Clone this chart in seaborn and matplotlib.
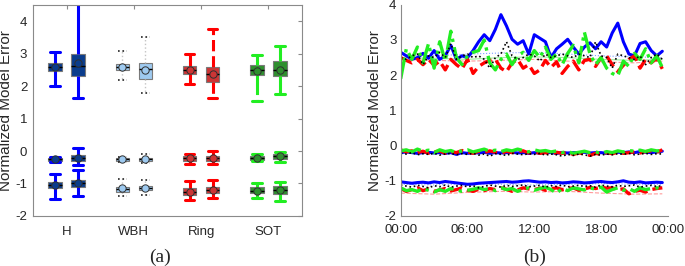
import numpy as np
import pandas as pd
import matplotlib
matplotlib.use('Agg')
import matplotlib.pyplot as plt
import seaborn as sns

sns.set_style('white')
plt.rcParams['font.family'] = ['Liberation Sans', 'DejaVu Sans']
plt.rcParams['axes.unicode_minus'] = False

# ---------------- (a) box summaries ----------------
# each row: [low whisker, q1, median, q3, high whisker]
# order: H-1, H-2, WBH-1, WBH-2, Ring-1, Ring-2, SOT-1, SOT-2
categories = ['H', 'WBH', 'Ring', 'SOT']

upper_boxes = [
    [2.00, 2.45, 2.57, 2.70, 3.05],
    [1.63, 2.32, 2.62, 2.98, 4.70],
    [2.20, 2.48, 2.60, 2.68, 3.08],
    [1.78, 2.22, 2.52, 2.70, 3.52],
    [2.05, 2.38, 2.50, 2.62, 2.98],
    [1.62, 2.12, 2.38, 2.60, 3.77],
    [1.55, 2.35, 2.48, 2.65, 2.95],
    [1.75, 2.30, 2.50, 2.77, 3.22],
]
upper_means = [2.57, 2.72, 2.60, 2.50, 2.50, 2.38, 2.45, 2.50]

middle_boxes = [
    [-0.33, -0.30, -0.26, -0.22, -0.17],
    [-0.43, -0.30, -0.20, -0.12, 0.08],
    [-0.33, -0.30, -0.25, -0.20, -0.17],
    [-0.38, -0.32, -0.26, -0.20, -0.08],
    [-0.40, -0.30, -0.22, -0.15, -0.10],
    [-0.40, -0.30, -0.22, -0.14, 0.00],
    [-0.30, -0.28, -0.22, -0.15, -0.08],
    [-0.33, -0.24, -0.16, -0.08, -0.02],
]
middle_means = [-0.26, -0.20, -0.25, -0.26, -0.22, -0.22, -0.22, -0.16]

lower_boxes = [
    [-1.47, -1.15, -1.05, -0.95, -0.70],
    [-1.40, -1.10, -1.00, -0.90, -0.58],
    [-1.38, -1.25, -1.17, -1.10, -0.87],
    [-1.36, -1.20, -1.13, -1.07, -0.90],
    [-1.50, -1.35, -1.25, -1.13, -0.92],
    [-1.45, -1.30, -1.20, -1.10, -0.90],
    [-1.45, -1.30, -1.22, -1.12, -0.97],
    [-1.53, -1.32, -1.20, -1.08, -0.95],
]
lower_means = [-1.05, -1.00, -1.15, -1.13, -1.25, -1.20, -1.22, -1.20]

# ---------------- (b) time series, every 30 min ----------------
hours = np.arange(0, 24, 0.5)

upper_blue = [2.65, 2.55, 2.45, 2.50, 2.62, 2.48, 2.70, 2.45, 2.55, 2.85, 2.45, 2.55,
              2.50, 2.70, 2.95, 3.15, 2.98, 3.30, 3.72, 3.40, 3.02, 2.88, 2.98, 2.60,
              3.15, 3.05, 2.95, 2.50, 2.75, 2.88, 3.02, 2.80, 2.60, 2.80, 2.92, 2.75,
              2.95, 2.80, 3.20, 3.48, 2.95, 2.60, 2.55, 2.90, 2.95, 2.70, 2.55, 2.68]
upper_red = [2.50, 2.42, 2.35, 2.45, 2.30, 2.45, 2.28, 2.40, 2.15, 2.45, 2.30, 2.18,
             2.45, 2.05, 2.25, 2.35, 2.42, 2.45, 2.20, 2.10, 2.35, 2.45, 2.20, 2.30,
             2.05, 2.15, 2.42, 2.22, 2.38, 2.05, 2.25, 2.40, 2.15, 2.42, 2.45, 2.25,
             2.50, 2.55, 2.30, 2.10, 2.28, 2.45, 2.55, 2.20, 2.45, 2.35, 2.48, 2.18]
upper_green = [1.90, 2.75, 2.45, 2.80, 2.35, 2.90, 2.20, 2.95, 2.40, 3.25, 2.50, 2.30,
               2.55, 2.65, 2.70, 3.00, 2.35, 2.15, 2.45, 2.60, 2.30, 2.55, 2.65, 2.42,
               2.70, 2.50, 2.80, 2.45, 2.60, 2.30, 2.62, 2.85, 2.35, 3.22, 2.60, 2.30,
               2.50, 2.20, 2.05, 1.98, 2.40, 2.25, 2.62, 2.45, 2.75, 2.35, 2.55, 2.22]
upper_black = [2.50, 2.45, 2.55, 2.60, 2.30, 2.55, 2.50, 2.65, 2.50, 2.90, 2.45, 2.55,
               2.60, 2.50, 2.55, 2.45, 2.20, 2.50, 2.60, 2.95, 2.55, 2.45, 2.50, 2.60,
               2.55, 2.40, 2.60, 2.50, 2.55, 2.60, 2.55, 2.50, 2.60, 2.55, 2.50, 2.95,
               2.55, 2.50, 2.20, 2.60, 2.55, 2.50, 2.45, 2.55, 2.30, 2.50, 2.60, 2.45]

middle_blue = [-0.20, -0.18, -0.20, -0.22, -0.20, -0.19, -0.21, -0.20, -0.22, -0.20, -0.25, -0.20,
               -0.22, -0.20, -0.21, -0.19, -0.22, -0.20, -0.21, -0.20, -0.19, -0.21, -0.20, -0.22,
               -0.20, -0.21, -0.19, -0.20, -0.22, -0.20, -0.21, -0.20, -0.20, -0.19, -0.21, -0.20,
               -0.20, -0.22, -0.20, -0.19, -0.20, -0.18, -0.20, -0.17, -0.19, -0.20, -0.18, -0.16]
middle_red = [-0.12, -0.18, -0.15, -0.20, -0.16, -0.22, -0.18, -0.15, -0.22, -0.17, -0.20, -0.14,
              -0.18, -0.22, -0.16, -0.20, -0.15, -0.19, -0.22, -0.16, -0.20, -0.17, -0.15, -0.21,
              -0.18, -0.22, -0.20, -0.24, -0.19, -0.22, -0.20, -0.25, -0.21, -0.23, -0.28, -0.22,
              -0.25, -0.20, -0.23, -0.19, -0.22, -0.20, -0.18, -0.21, -0.17, -0.15, -0.19, -0.12]
middle_green = [-0.15, -0.12, -0.18, -0.10, -0.16, -0.13, -0.20, -0.12, -0.17, -0.14, -0.20, -0.15,
                -0.12, -0.18, -0.14, -0.10, -0.16, -0.13, -0.17, -0.12, -0.15, -0.10, -0.14, -0.18,
                -0.12, -0.16, -0.14, -0.18, -0.15, -0.20, -0.17, -0.22, -0.19, -0.16, -0.20, -0.18,
                -0.22, -0.17, -0.20, -0.15, -0.18, -0.14, -0.16, -0.13, -0.17, -0.12, -0.15, -0.14]
middle_black = [-0.22, -0.24, -0.20, -0.26, -0.23, -0.25, -0.22, -0.27, -0.24, -0.22, -0.26, -0.23,
                -0.25, -0.22, -0.27, -0.24, -0.30, -0.23, -0.25, -0.28, -0.22, -0.24, -0.26, -0.23,
                -0.25, -0.22, -0.27, -0.24, -0.26, -0.30, -0.25, -0.28, -0.24, -0.26, -0.30, -0.25,
                -0.27, -0.24, -0.26, -0.23, -0.25, -0.22, -0.26, -0.24, -0.22, -0.25, -0.23, -0.24]

lower_blue = [-1.03, -1.05, -1.07, -1.05, -1.04, -1.06, -1.03, -1.05, -1.02, -1.04, -1.06, -1.08,
              -1.10, -1.09, -1.07, -1.06, -1.05, -1.04, -1.03, -1.02, -1.04, -1.03, -1.01, -1.00,
              -1.02, -1.04, -1.03, -1.05, -1.04, -1.06, -1.05, -1.03, -1.04, -1.06, -1.05, -1.03,
              -1.02, -1.04, -1.05, -1.03, -1.00, -1.04, -1.05, -1.03, -1.06, -1.05, -1.04, -1.05]
lower_red = [-1.22, -1.30, -1.25, -1.20, -1.28, -1.23, -1.30, -1.26, -1.22, -1.29, -1.25, -1.20,
             -1.27, -1.30, -1.24, -1.28, -1.22, -1.25, -1.20, -1.24, -1.30, -1.26, -1.20, -1.23,
             -1.25, -1.21, -1.27, -1.23, -1.20, -1.25, -1.22, -1.20, -1.27, -1.23, -1.19, -1.22,
             -1.18, -1.21, -1.20, -1.25, -1.23, -1.37, -1.30, -1.27, -1.32, -1.25, -1.22, -1.20]
lower_green = [-1.20, -1.28, -1.25, -1.30, -1.22, -1.27, -1.32, -1.25, -1.30, -1.22, -1.26, -1.30,
               -1.27, -1.24, -1.20, -1.25, -1.22, -1.28, -1.20, -1.25, -1.22, -1.30, -1.24, -1.20,
               -1.27, -1.22, -1.18, -1.25, -1.35, -1.22, -1.28, -1.20, -1.23, -1.26, -1.20, -1.24,
               -1.18, -1.32, -1.25, -1.20, -1.27, -1.22, -1.30, -1.20, -1.25, -1.22, -1.20, -1.24]
lower_black = [-1.12, -1.15, -1.18, -1.13, -1.16, -1.20, -1.14, -1.17, -1.12, -1.18, -1.15, -1.13,
               -1.17, -1.14, -1.20, -1.16, -1.12, -1.15, -1.18, -1.13, -1.16, -1.14, -1.12, -1.17,
               -1.15, -1.13, -1.18, -1.14, -1.16, -1.12, -1.17, -1.15, -1.13, -1.16, -1.14, -1.18,
               -1.12, -1.15, -1.17, -1.13, -1.16, -1.14, -1.12, -1.18, -1.15, -1.13, -1.16, -1.14]

# thin reference curves, sampled every 3 h
hours_coarse = [0, 3, 6, 9, 12, 15, 18, 21, 23.5]
upper_lightblue = [2.58, 2.55, 2.60, 2.63, 2.65, 2.60, 2.55, 2.52, 2.50]
upper_pink = [2.45, 2.42, 2.40, 2.42, 2.45, 2.40, 2.38, 2.35, 2.40]
upper_lightgreen = [2.50, 2.48, 2.45, 2.50, 2.52, 2.50, 2.45, 2.42, 2.45]
lower_lightblue = [-1.10, -1.12, -1.08, -1.10, -1.12, -1.10, -1.08, -1.10, -1.10]
lower_pink = [-1.35, -1.38, -1.33, -1.30, -1.32, -1.30, -1.35, -1.38, -1.37]

time_ticks = ['00:00', '06:00', '12:00', '18:00', '00:00']

# ---------------- styles ----------------
face = {'H': '#0a3c8c', 'WBH': '#9ecaf0', 'Ring': '#cc3535', 'SOT': '#2f8f2f'}
whisk = {
    'H': dict(color='#0000ff', linestyle='-', linewidth=2.2),
    'WBH': dict(color='#c4c4c4', linestyle=':', linewidth=1.0),
    'Ring': dict(color='#ff0000', linestyle='--', linewidth=2.2),
    'SOT': dict(color='#22ee22', linestyle='-.', linewidth=2.2),
}
caps = {
    'H': dict(color='#0000ff', linestyle='-', linewidth=2.2),
    'WBH': dict(color='#222222', linestyle=':', linewidth=1.2),
    'Ring': dict(color='#ff0000', linestyle='-', linewidth=2.2),
    'SOT': dict(color='#22ee22', linestyle='-', linewidth=2.2),
}
spine_col = '#8a8a8a'
text_col = '#262626'

offsets = [-0.17, 0.17]
rows = []
for level, boxes in (('upper', upper_boxes), ('middle', middle_boxes), ('lower', lower_boxes)):
    for k, five in enumerate(boxes):
        ci, j = divmod(k, 2)
        for v in five:
            rows.append(dict(cat=categories[ci], pos=round(ci + 1 + offsets[j], 2),
                             level=level, value=v))
box_df = pd.DataFrame(rows)

mean_rows = []
for level, means in (('upper', upper_means), ('middle', middle_means), ('lower', lower_means)):
    for k, m in enumerate(means):
        ci, j = divmod(k, 2)
        mean_rows.append(dict(cat=categories[ci], pos=round(ci + 1 + offsets[j], 2),
                              level=level, value=m))
mean_df = pd.DataFrame(mean_rows)

fig = plt.figure(figsize=(6.85, 2.66), dpi=100)
ax1 = fig.add_axes([0.048, 0.188, 0.393, 0.794])
ax2 = fig.add_axes([0.585, 0.188, 0.390, 0.794])

# ---- panel (a)
for cat in categories:
    for level in ('upper', 'middle', 'lower'):
        sub = box_df[(box_df.cat == cat) & (box_df.level == level)]
        sns.boxplot(data=sub, x='pos', y='value', native_scale=True, width=0.58,
                    whis=(0, 100), showfliers=False, color=face[cat], saturation=1,
                    linecolor='#7a7a7a', linewidth=0.8,
                    whiskerprops=whisk[cat], capprops=caps[cat],
                    medianprops=dict(color='black', linewidth=1.0),
                    capwidths=0.14, ax=ax1)
    msub = mean_df[mean_df.cat == cat]
    ax1.scatter(msub.pos, msub.value, s=28, facecolor=face[cat], edgecolor='#303030',
                linewidth=0.7, zorder=5)

ax1.set_xlim(0.5, 4.5)
ax1.set_ylim(-2, 4.5)
ax1.set_xticks([1, 2, 3, 4])
ax1.set_xticklabels(categories)
ax1.set_yticks([-2, -1, 0, 1, 2, 3, 4])
ax1.set_xlabel('')
ax1.set_ylabel('Normalized Model Error', fontsize=11, color=text_col, labelpad=2)
ax1.tick_params(direction='in', top=True, right=True, length=3, color=spine_col,
                labelsize=9.5, labelcolor=text_col, pad=4)
ax1.tick_params(axis='x', pad=7)
for s in ax1.spines.values():
    s.set_color(spine_col)
    s.set_linewidth(0.8)

# ---- panel (b)
thin = [
    (hours_coarse, upper_lightblue, '#7f9fff', ':'),
    (hours_coarse, upper_pink, '#ff9a9a', '--'),
    (hours_coarse, upper_lightgreen, '#9fef9f', '-'),
    (hours_coarse, lower_lightblue, '#7f9fff', ':'),
    (hours_coarse, lower_pink, '#ff9a9a', '--'),
]
for x, y, c, ls in thin:
    sns.lineplot(x=x, y=y, color=c, linestyle=ls, linewidth=0.8, ax=ax2)

groups = [
    (upper_blue, upper_red, upper_green, upper_black),
    (middle_blue, middle_red, middle_green, middle_black),
    (lower_blue, lower_red, lower_green, lower_black),
]
for blue, red, green, black in groups:
    sns.lineplot(x=hours, y=blue, color='#0000ff', linestyle='-', linewidth=2.2, ax=ax2)
    sns.lineplot(x=hours, y=red, color='#ff0000', linestyle='--', linewidth=2.4, ax=ax2)
    sns.lineplot(x=hours, y=green, color='#22ee22', linestyle='-.', linewidth=2.4, ax=ax2)
    sns.lineplot(x=hours, y=black, color='black', linestyle=':', linewidth=1.2, ax=ax2)

ax2.set_xlim(0, 24)
ax2.set_ylim(-2, 4)
ax2.set_xticks([0, 6, 12, 18, 24])
ax2.set_xticklabels(time_ticks)
ax2.set_yticks([-2, -1, 0, 1, 2, 3, 4])
ax2.set_ylabel('Normalized Model Error', fontsize=11, color=text_col, labelpad=2)
ax2.tick_params(direction='in', length=3, color=spine_col,
                labelsize=9.5, labelcolor=text_col, pad=3)
ax2.tick_params(axis='x', pad=6)
ax2.spines['top'].set_visible(False)
ax2.spines['right'].set_visible(False)
for s in ('left', 'bottom'):
    ax2.spines[s].set_color(spine_col)
    ax2.spines[s].set_linewidth(0.8)

fig.text(0.234, 0.034, '(a)', ha='center', va='center', fontsize=14,
         family=['Liberation Serif', 'DejaVu Serif'])
fig.text(0.781, 0.034, '(b)', ha='center', va='center', fontsize=14,
         family=['Liberation Serif', 'DejaVu Serif'])

fig.savefig('out.png', dpi=100)
